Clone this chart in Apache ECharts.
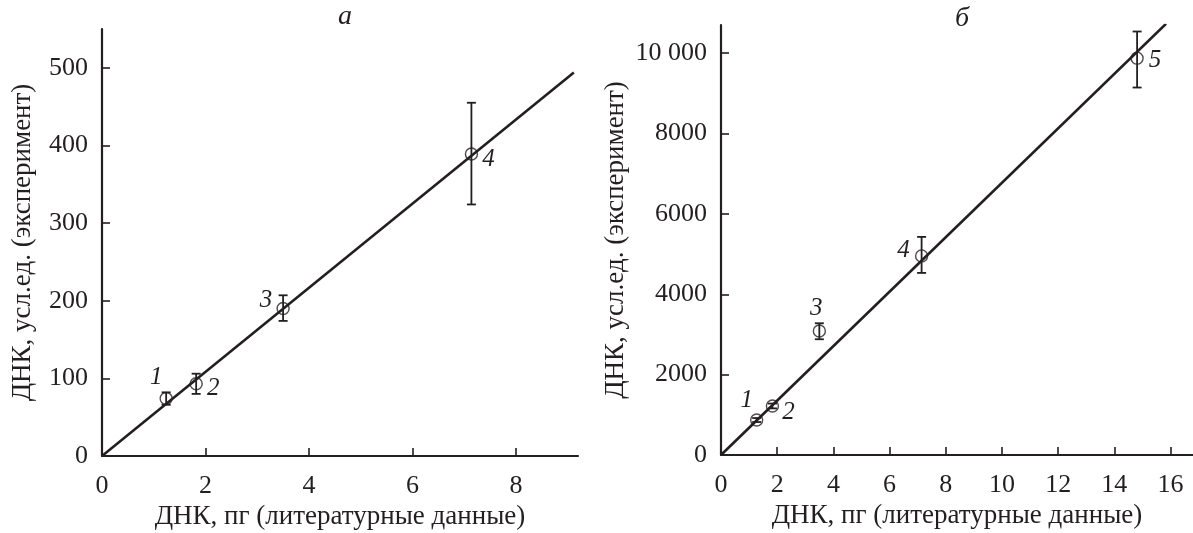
<!DOCTYPE html>
<html>
<head>
<meta charset="utf-8">
<script src="https://cdn.jsdelivr.net/npm/echarts@6/dist/echarts.min.js"></script>
<style>
html, body { margin: 0; padding: 0; background: #fff; }
#chart { width: 1193px; height: 533px; }
</style>
</head>
<body>
<div id="chart"></div>
<script>
// панель а
var aX = [1.24, 1.82, 3.5, 7.14];
var aY = [74, 93, 190, 389];
var aErrLow = [66, 80, 174, 324];
var aErrHigh = [82, 106, 207, 455];
var aLabels = ['1', '2', '3', '4'];
var aFit = [[0, 0], [9.12, 494]];
var aXTicks = [0, 2, 4, 6, 8];
var aYTicks = [0, 100, 200, 300, 400, 500];

// панель б
var bX = [1.27, 1.83, 3.5, 7.14, 14.81];
var bY = [871, 1220, 3087, 4954, 9875];
var bErrLow = [820, 1160, 2880, 4531, 9144];
var bErrHigh = [920, 1280, 3278, 5427, 10538];
var bLabels = ['1', '2', '3', '4', '5'];
var bFit = [[0, 0], [15.84, 10730]];
var bXTicks = [0, 2, 4, 6, 8, 10, 12, 14, 16];
var bYTicks = [0, 2000, 4000, 6000, 8000, 10000];

var xName = 'ДНК, пг (литературные данные)';
var yName = 'ДНК, усл.ед. (эксперимент)';

var ink = '#231f20';
var serif = 'Liberation Serif';

// смещения подписей точек (px)
var aOffsets = [[-10, -21], [17, 5], [-17, -8], [17, 5]];
var bOffsets = [[-10, -20], [16, 6], [-3, -23], [-18, -5], [18, 2]];

function pts(xs, ys, labels, offs) {
    var res = [];
    for (var i = 0; i < xs.length; i++) {
        res.push({
            value: [xs[i], ys[i]],
            label: { show: true, formatter: labels[i], offset: offs[i] }
        });
    }
    return res;
}

function errs(xs, lo, hi) {
    var res = [];
    for (var i = 0; i < xs.length; i++) {
        res.push([xs[i], lo[i], hi[i]]);
    }
    return res;
}

function renderErr(params, api) {
    var top = api.coord([api.value(0), api.value(2)]);
    var bot = api.coord([api.value(0), api.value(1)]);
    var w = 4.5;
    var st = { stroke: ink, lineWidth: 1.8 };
    return {
        type: 'group',
        children: [
            { type: 'line', shape: { x1: top[0], y1: top[1], x2: bot[0], y2: bot[1] }, style: st },
            { type: 'line', shape: { x1: top[0] - w, y1: top[1], x2: top[0] + w, y2: top[1] }, style: st },
            { type: 'line', shape: { x1: bot[0] - w, y1: bot[1], x2: bot[0] + w, y2: bot[1] }, style: st }
        ]
    };
}

function xAxis(idx, max, ticks) {
    return {
        type: 'value', gridIndex: idx, min: 0, max: max,
        splitLine: { show: false },
        axisLine: { onZero: false, lineStyle: { color: ink, width: 2.2 } },
        axisTick: { inside: true, length: 8, customValues: ticks, lineStyle: { color: ink, width: 1.6 } },
        axisLabel: { customValues: ticks, margin: 17, color: ink, fontFamily: serif, fontSize: 26 },
        name: xName, nameLocation: 'middle', nameGap: 41,
        nameTextStyle: { color: ink, fontFamily: serif, fontSize: 27 }
    };
}

function yAxis(idx, max, ticks, gap) {
    return {
        type: 'value', gridIndex: idx, min: 0, max: max,
        splitLine: { show: false },
        axisLine: { onZero: false, lineStyle: { color: ink, width: 2.2 } },
        axisTick: { inside: true, length: 8, customValues: ticks, lineStyle: { color: ink, width: 1.6 } },
        axisLabel: {
            customValues: ticks, margin: 14, color: ink, fontFamily: serif, fontSize: 26,
            formatter: function (v) { return v >= 10000 ? '10 000' : String(v); }
        },
        name: yName, nameLocation: 'middle', nameGap: gap,
        nameTextStyle: { color: ink, fontFamily: serif, fontSize: 27 }
    };
}

var labelStyle = {
    color: ink, fontFamily: serif, fontStyle: 'italic', fontSize: 25,
    position: 'inside', textBorderWidth: 0, opacity: 1
};

var chart = echarts.init(document.getElementById('chart'));
chart.setOption({
    backgroundColor: '#fff',
    animation: false,
    title: [
        { text: 'а', left: 333, top: -2, textStyle: { color: ink, fontFamily: serif, fontStyle: 'italic', fontWeight: 'normal', fontSize: 28 } },
        { text: 'б', left: 950, top: 0, textStyle: { color: ink, fontFamily: serif, fontStyle: 'italic', fontWeight: 'normal', fontSize: 28 } }
    ],
    grid: [
        { left: 102, top: 29, width: 476, height: 427, outerBoundsMode: 'none' },
        { left: 721, top: 25, width: 472, height: 430, outerBoundsMode: 'none' }
    ],
    xAxis: [xAxis(0, 9.2, aXTicks), xAxis(1, 16.8, bXTicks)],
    yAxis: [yAxis(0, 550, aYTicks, 66), yAxis(1, 10700, bYTicks, 92)],
    series: [
        {
            type: 'line', xAxisIndex: 0, yAxisIndex: 0, data: aFit, symbol: 'none',
            lineStyle: { color: ink, width: 2.6 }, silent: true
        },
        {
            type: 'custom', xAxisIndex: 0, yAxisIndex: 0, data: errs(aX, aErrLow, aErrHigh),
            renderItem: renderErr, z: 3
        },
        {
            type: 'scatter', xAxisIndex: 0, yAxisIndex: 0, data: pts(aX, aY, aLabels, aOffsets),
            symbol: 'circle', symbolSize: 12,
            itemStyle: { color: 'rgba(255,255,255,0)', borderColor: ink, borderWidth: 1.4 },
            label: labelStyle, z: 4
        },
        {
            type: 'line', xAxisIndex: 1, yAxisIndex: 1, data: bFit, symbol: 'none',
            lineStyle: { color: ink, width: 2.6 }, silent: true
        },
        {
            type: 'custom', xAxisIndex: 1, yAxisIndex: 1, data: errs(bX, bErrLow, bErrHigh),
            renderItem: renderErr, z: 3
        },
        {
            type: 'scatter', xAxisIndex: 1, yAxisIndex: 1, data: pts(bX, bY, bLabels, bOffsets),
            symbol: 'circle', symbolSize: 12,
            itemStyle: { color: 'rgba(255,255,255,0)', borderColor: ink, borderWidth: 1.4 },
            label: labelStyle, z: 4
        }
    ]
});
</script>
</body>
</html>
